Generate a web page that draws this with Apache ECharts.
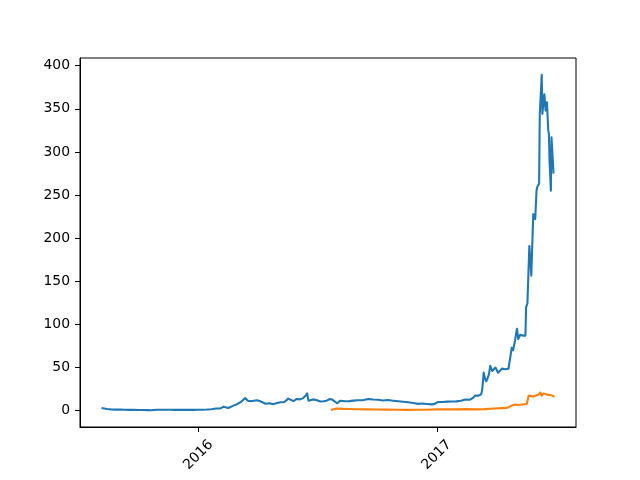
<!DOCTYPE html>
<html><head><meta charset="utf-8">
<script src="https://cdn.jsdelivr.net/npm/echarts@6/dist/echarts.min.js"></script>
<style>html,body{margin:0;padding:0;background:#fff}#c{width:640px;height:480px}</style>
</head><body><div id="c"></div>
<script>
const ethDates = ['2015-08-07','2015-08-09','2015-08-14','2015-08-20','2015-08-27','2015-09-03','2015-09-10','2015-09-17','2015-09-24','2015-10-01','2015-10-08','2015-10-15','2015-10-21','2015-10-29','2015-11-05','2015-11-12','2015-11-19','2015-11-26','2015-12-03','2015-12-10','2015-12-17','2015-12-24','2015-12-31',
'2016-01-07','2016-01-14','2016-01-21','2016-01-28','2016-02-04','2016-02-09','2016-02-16','2016-02-23','2016-03-01','2016-03-07','2016-03-13','2016-03-17','2016-03-21','2016-03-26','2016-03-31','2016-04-06','2016-04-13','2016-04-19','2016-04-25','2016-05-01','2016-05-06','2016-05-12','2016-05-18','2016-05-26','2016-05-31','2016-06-05','2016-06-10','2016-06-14','2016-06-16','2016-06-18','2016-06-21','2016-06-25','2016-07-01','2016-07-06','2016-07-11','2016-07-16','2016-07-21','2016-07-25','2016-08-01','2016-08-06','2016-08-13','2016-08-20','2016-08-26','2016-09-02','2016-09-09','2016-09-18','2016-09-25','2016-10-03','2016-10-10','2016-10-18','2016-10-26','2016-11-03','2016-11-10','2016-11-18','2016-11-26','2016-12-03','2016-12-10','2016-12-17','2016-12-24','2016-12-29',
'2017-01-03','2017-01-10','2017-01-17','2017-01-24','2017-01-31','2017-02-07','2017-02-14','2017-02-21','2017-02-26','2017-03-01','2017-03-03','2017-03-06','2017-03-10','2017-03-11','2017-03-12','2017-03-14','2017-03-16','2017-03-18','2017-03-22','2017-03-24','2017-03-27','2017-04-01','2017-04-05','2017-04-11','2017-04-16','2017-04-21','2017-04-24','2017-04-26','2017-04-28','2017-05-01','2017-05-04','2017-05-06','2017-05-09','2017-05-13','2017-05-17','2017-05-18','2017-05-20','2017-05-23','2017-05-26','2017-05-29','2017-06-01','2017-06-03','2017-06-04','2017-06-07','2017-06-08','2017-06-11','2017-06-12','2017-06-15','2017-06-17','2017-06-19','2017-06-21','2017-06-22','2017-06-23','2017-06-25','2017-06-26','2017-06-28','2017-06-29'];
const ethValues = [2.77,0.70,1.81,1.44,1.15,1.34,1.00,0.88,0.81,0.69,0.63,0.55,0.43,1.02,0.95,0.93,0.96,0.88,0.83,0.84,0.88,0.86,0.93,
0.95,1.18,1.56,2.44,2.53,4.6,3.0,5.5,7.7,10.5,14.5,11.5,10.8,11.5,12.0,10.5,7.9,8.6,7.5,8.9,9.7,10.0,13.9,11.0,13.5,13.0,14.5,17.5,20.0,11.5,13.0,13.0,12.0,10.5,10.8,11.5,13.5,12.5,8.5,11.5,10.8,11.0,11.6,12.0,12.0,13.5,12.9,12.6,11.8,12.2,11.5,10.9,10.3,9.6,8.9,7.8,8.2,7.7,7.2,7.8,
10.0,9.9,10.4,10.6,10.7,11.4,12.9,12.6,15.0,17.5,19.3,17.4,19.0,22.0,27.0,44.0,37.0,34.0,42.0,52.0,46.0,50.0,44.0,48.7,48.0,48.5,50.0,73.0,70.0,81.0,95.0,83.0,88.0,87.0,87.0,120.0,124.0,191.0,156.5,228.0,222.0,255.0,259.0,263.5,344.0,389.5,344.0,367.0,348.0,357.6,325.0,321.0,290.0,255.0,317.0,290.0,276.0];
const etcDates = ['2016-07-24','2016-07-27','2016-07-31','2016-08-03','2016-08-10','2016-08-20','2016-09-01','2016-09-15','2016-10-01','2016-10-15','2016-11-01','2016-11-15','2016-12-01','2016-12-15','2017-01-01','2017-01-15','2017-02-01','2017-02-15','2017-03-01','2017-03-15','2017-03-31','2017-04-10','2017-04-19','2017-04-26','2017-05-01','2017-05-06','2017-05-12','2017-05-19','2017-05-22','2017-05-25','2017-05-29','2017-06-02','2017-06-06','2017-06-09','2017-06-11','2017-06-14','2017-06-17','2017-06-19','2017-06-23','2017-06-27','2017-06-29'];
const etcValues = [0.9,1.2,2.5,2.0,2.0,1.9,1.6,1.4,1.3,1.1,0.95,0.88,0.9,1.05,1.4,1.55,1.4,1.75,1.4,1.7,2.5,2.9,3.2,5.8,7.0,6.5,7.0,7.7,17.4,15.5,16.2,17.5,18.5,21.0,17.4,20.0,19.0,18.5,18.0,17.4,16.6];
const yTicks = [0,50,100,150,200,250,300,350,400];
const xTickYears = [2016,2017];

function t(s){const p=s.split('-');return Date.UTC(+p[0],+p[1]-1,+p[2]);}
const eth = ethDates.map((d,i)=>[t(d),ethValues[i]]);
const etc = etcDates.map((d,i)=>[t(d),etcValues[i]]);
const allX = eth.concat(etc).map(p=>p[0]);
const allY = ethValues.concat(etcValues);
const x0=Math.min(...allX), x1=Math.max(...allX), y0=Math.min(...allY), y1=Math.max(...allY);
const xp=(x1-x0)*0.05, yp=(y1-y0)*0.05;
const xTicks = xTickYears.map(y=>Date.UTC(y,0,1));
const font = {fontFamily:'DejaVu Sans', fontSize:13.9, color:'#000'};

const chart = echarts.init(document.getElementById('c'), null, {renderer:'canvas'});
chart.setOption({
  animation:false,
  backgroundColor:'#fff',
  grid:{left:80, top:58, width:496, height:369, show:true, borderColor:'#000', borderWidth:1, backgroundColor:'transparent'},
  xAxis:{type:'value', min:x0-xp, max:x1+xp, scale:true,
    axisLine:{show:true, onZero:false, lineStyle:{color:'#000', width:1}},
    axisTick:{show:true, length:5, lineStyle:{color:'#000'}, customValues:xTicks},
    axisLabel:Object.assign({rotate:45, margin:28, align:'center', verticalAlign:'middle', customValues:xTicks,
      formatter:v=>String(new Date(v).getUTCFullYear())}, font),
    splitLine:{show:false}},
  yAxis:{type:'value', min:y0-yp, max:y1+yp,
    axisLine:{show:true, onZero:false, lineStyle:{color:'#000', width:1}},
    axisTick:{show:true, length:5, lineStyle:{color:'#000'}, customValues:yTicks},
    axisLabel:Object.assign({margin:10, customValues:yTicks, formatter:v=>String(v)}, font),
    splitLine:{show:false}},
  series:[
    {type:'line', data:eth, showSymbol:false, symbol:'none', lineStyle:{color:'#1f77b4', width:2.08, join:'round', cap:'square'}, itemStyle:{color:'#1f77b4'}},
    {type:'line', data:etc, showSymbol:false, symbol:'none', lineStyle:{color:'#ff7f0e', width:2.08, join:'round', cap:'square'}, itemStyle:{color:'#ff7f0e'}}
  ]
});
</script></body></html>
